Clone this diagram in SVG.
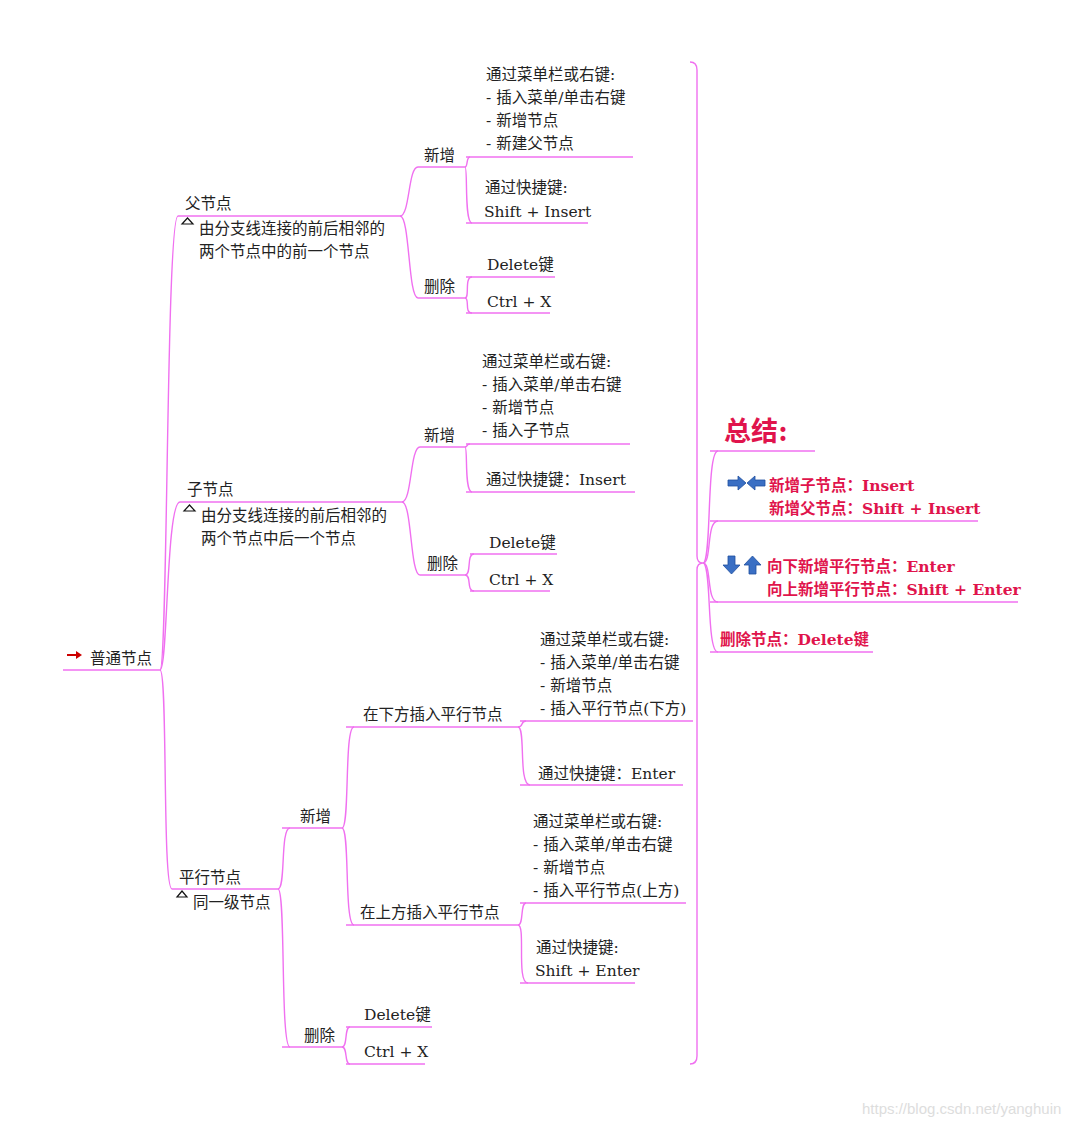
<svg xmlns="http://www.w3.org/2000/svg" width="1080" height="1127" viewBox="0 0 1080 1127">
<style>
text{font-family:"DejaVu Serif","Noto Sans CJK SC",serif;font-size:15.5px;fill:#222}
.u{stroke:#f070f0;stroke-width:1.4;fill:none}
.c{stroke:#f070f0;stroke-width:1.4;fill:none}
.s{fill:#e0144c;font-weight:bold}
.tri{fill:none;stroke:#111;stroke-width:1.2}
.ic{fill:#3a6fc4;stroke:#1f4f9e;stroke-width:0.8}
</style>
<rect width="1080" height="1127" fill="#fff"/>
<g id="connectors">
<path class="c" d="M160 670 C168 670 166 216 178 216"/>
<path class="c" d="M160 670 C168 670 166 502 180 502"/>
<path class="c" d="M160 670 C168 670 162 889 172 889"/>
<path class="c" d="M400 216 C410 216 408 167 418 167"/>
<path class="c" d="M400 216 C410 216 408 298 418 298"/>
<path class="c" d="M465 167 C468 167 466 157 470 157"/>
<path class="c" d="M465 167 C468 167 464 223 472 223"/>
<path class="c" d="M465 298 C470 298 464 277 472 277"/>
<path class="c" d="M465 298 C470 298 464 313 472 313"/>
<path class="c" d="M402 502 C412 502 410 447 420 447"/>
<path class="c" d="M402 502 C412 502 410 575 420 575"/>
<path class="c" d="M465 447 C468 447 466 444 470 444"/>
<path class="c" d="M465 447 C468 447 464 492 472 492"/>
<path class="c" d="M465 575 C472 575 466 554 474 554"/>
<path class="c" d="M465 575 C472 575 466 591 474 591"/>
<path class="c" d="M278 889 C286 889 280 828 290 828"/>
<path class="c" d="M278 889 C286 889 280 1047 290 1047"/>
<path class="c" d="M342 828 C350 828 344 727 354 727"/>
<path class="c" d="M342 828 C350 828 344 925 354 925"/>
<path class="c" d="M342 1047 C348 1047 344 1027 350 1027"/>
<path class="c" d="M342 1047 C348 1047 344 1064 350 1064"/>
<path class="c" d="M518 727 C524 727 520 721 526 721"/>
<path class="c" d="M518 727 C526 727 518 785 530 785"/>
<path class="c" d="M518 925 C524 925 520 903 526 903"/>
<path class="c" d="M518 925 C526 925 516 983 528 983"/>
<path class="c" d="M690 62 Q697 62 697 70 L697 556 Q697 563 703 563 Q697 563 697 570 L697 1056 Q697 1064 690 1064"/>
<path class="c" d="M703 563 C712 563 706 451 718 451"/>
<path class="c" d="M703 563 C712 563 706 521 718 521"/>
<path class="c" d="M703 563 C712 563 706 602 718 602"/>
<path class="c" d="M703 563 C712 563 706 652 718 652"/>
</g>
<g id="root"><line class="u" x1="63" y1="670" x2="160" y2="670"/><path d="M67 655 H78" stroke="#c00" stroke-width="2"/><path d="M76 651 L82 655 L76 659 Z" fill="#c00"/><text x="90" y="664">普通节点</text></g>
<g id="fu"><line class="u" x1="178" y1="216" x2="400" y2="216"/><text x="185" y="209">父节点</text><path class="tri" d="M182 224 L187.5 218 L193 224 Z"/><text x="199" y="234">由分支线连接的前后相邻的</text><text x="199" y="257">两个节点中的前一个节点</text></g>
<g id="fu-add"><line class="u" x1="418" y1="167" x2="465" y2="167"/><text x="424" y="161">新增</text></g>
<g id="fu-add-menu"><line class="u" x1="466" y1="157" x2="633" y2="157"/><text x="486" y="80">通过菜单栏或右键:</text><text x="486" y="103">- 插入菜单/单击右键</text><text x="486" y="126">- 新增节点</text><text x="486" y="149">- 新建父节点</text></g>
<g id="fu-add-key"><line class="u" x1="466" y1="223" x2="588" y2="223"/><text x="485" y="193">通过快捷键:</text><text x="484" y="217">Shift + Insert</text></g>
<g id="fu-del"><line class="u" x1="418" y1="298" x2="465" y2="298"/><text x="424" y="292">删除</text></g>
<g id="fu-del1"><line class="u" x1="466" y1="277" x2="555" y2="277"/><text x="487" y="270">Delete键</text></g>
<g id="fu-del2"><line class="u" x1="466" y1="313" x2="550" y2="313"/><text x="487" y="307">Ctrl + X</text></g>
<g id="zi"><line class="u" x1="180" y1="502" x2="402" y2="502"/><text x="187" y="495">子节点</text><path class="tri" d="M184 511 L189.5 505 L195 511 Z"/><text x="201" y="521">由分支线连接的前后相邻的</text><text x="201" y="544">两个节点中后一个节点</text></g>
<g id="zi-add"><line class="u" x1="420" y1="447" x2="465" y2="447"/><text x="424" y="441">新增</text></g>
<g id="zi-add-menu"><line class="u" x1="466" y1="444" x2="630" y2="444"/><text x="482" y="367">通过菜单栏或右键:</text><text x="482" y="390">- 插入菜单/单击右键</text><text x="482" y="413">- 新增节点</text><text x="482" y="436">- 插入子节点</text></g>
<g id="zi-add-key"><line class="u" x1="466" y1="492" x2="635" y2="492"/><text x="486" y="485">通过快捷键：Insert</text></g>
<g id="zi-del"><line class="u" x1="420" y1="575" x2="465" y2="575"/><text x="427" y="569">删除</text></g>
<g id="zi-del1"><line class="u" x1="470" y1="554" x2="557" y2="554"/><text x="489" y="548">Delete键</text></g>
<g id="zi-del2"><line class="u" x1="470" y1="591" x2="550" y2="591"/><text x="489" y="585">Ctrl + X</text></g>
<g id="ping"><line class="u" x1="172" y1="889" x2="278" y2="889"/><text x="179" y="883">平行节点</text><path class="tri" d="M177 897 L182 891 L187 897 Z"/><text x="193" y="908">同一级节点</text></g>
<g id="ping-add"><line class="u" x1="282" y1="828" x2="342" y2="828"/><text x="300" y="822">新增</text></g>
<g id="ping-down"><line class="u" x1="346" y1="727" x2="518" y2="727"/><text x="363" y="720">在下方插入平行节点</text></g>
<g id="ping-down-menu"><line class="u" x1="520" y1="721" x2="693" y2="721"/><text x="540" y="645">通过菜单栏或右键:</text><text x="540" y="668">- 插入菜单/单击右键</text><text x="540" y="691">- 新增节点</text><text x="540" y="714">- 插入平行节点(下方)</text></g>
<g id="ping-down-key"><line class="u" x1="520" y1="785" x2="683" y2="785"/><text x="538" y="779">通过快捷键：Enter</text></g>
<g id="ping-up"><line class="u" x1="346" y1="925" x2="518" y2="925"/><text x="360" y="918">在上方插入平行节点</text></g>
<g id="ping-up-menu"><line class="u" x1="520" y1="903" x2="686" y2="903"/><text x="533" y="827">通过菜单栏或右键:</text><text x="533" y="850">- 插入菜单/单击右键</text><text x="533" y="873">- 新增节点</text><text x="533" y="896">- 插入平行节点(上方)</text></g>
<g id="ping-up-key"><line class="u" x1="520" y1="983" x2="635" y2="983"/><text x="536" y="953">通过快捷键:</text><text x="535" y="976">Shift + Enter</text></g>
<g id="ping-del"><line class="u" x1="282" y1="1047" x2="342" y2="1047"/><text x="304" y="1041">删除</text></g>
<g id="ping-del1"><line class="u" x1="346" y1="1027" x2="432" y2="1027"/><text x="364" y="1020">Delete键</text></g>
<g id="ping-del2"><line class="u" x1="346" y1="1064" x2="425" y2="1064"/><text x="364" y="1057">Ctrl + X</text></g>
<g id="summary"><line class="u" x1="710" y1="451" x2="815" y2="451"/><text class="s" x="724" y="441" style="font-size:27px">总结:</text></g>
<g id="sum1"><line class="u" x1="710" y1="521" x2="978" y2="521"/>
<path class="ic" d="M728 480 H738 V476 L746 483 L738 490 V486 H728 Z"/><path class="ic" d="M765 480 H755 V476 L747 483 L755 490 V486 H765 Z"/>
<text class="s" x="769" y="491">新增子节点：Insert</text><text class="s" x="769" y="514">新增父节点：Shift + Insert</text></g>
<g id="sum2"><line class="u" x1="710" y1="602" x2="1018" y2="602"/>
<path class="ic" d="M728 556 H735 V565 H740 L731.5 574 L723 565 H728 Z"/><path class="ic" d="M749 574 H756 V565 H761 L752.5 556 L744 565 H749 Z"/>
<text class="s" x="767" y="572">向下新增平行节点：Enter</text><text class="s" x="767" y="595">向上新增平行节点：Shift + Enter</text></g>
<g id="sum3"><line class="u" x1="710" y1="652" x2="873" y2="652"/><text class="s" x="720" y="645">删除节点：Delete键</text></g>
<text x="862" y="1114" style="font-family:'Liberation Sans',sans-serif;font-size:15px;fill:#ddd">https://blog.csdn.net/yanghuin</text>
</svg>
